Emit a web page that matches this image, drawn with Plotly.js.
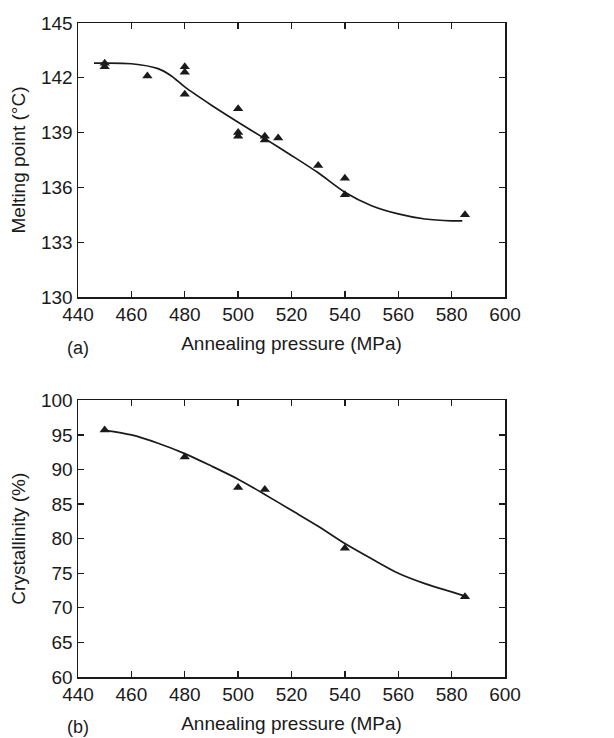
<!DOCTYPE html>
<html>
<head>
<meta charset="utf-8">
<script src="https://cdn.plot.ly/plotly-3.0.1.min.js"></script>
<style>html,body{margin:0;padding:0;background:#fff;}#chart{width:614px;height:738px;}</style>
</head>
<body>
<div id="chart"></div>
<script>
// Panel (a): melting point vs annealing pressure
var mpPressure = [450, 450, 466, 480, 480, 480, 500, 500, 500, 510, 510, 515, 530, 540, 540, 585];
var mpValue    = [142.8, 142.6, 142.1, 142.6, 142.3, 141.1, 140.3, 139.0, 138.8, 138.8, 138.6, 138.7, 137.2, 136.5, 135.6, 134.5];
var mpFitX = [446, 460, 470, 475, 480, 490, 500, 510, 520, 530, 540, 550, 560, 570, 580, 584];
var mpFitY = [142.8, 142.77, 142.5, 142.1, 141.5, 140.5, 139.57, 138.67, 137.75, 136.8, 135.74, 135.0, 134.55, 134.27, 134.17, 134.17];

// Panel (b): crystallinity vs annealing pressure
var crPressure = [450, 480, 500, 510, 540, 585];
var crValue    = [95.7, 91.8, 87.4, 87.1, 78.6, 71.6];
var crFitX = [450, 460, 470, 480, 490, 500, 510, 520, 530, 540, 550, 560, 570, 580, 585];
var crFitY = [95.66, 95.0, 93.8, 92.3, 90.5, 88.6, 86.4, 84.1, 81.8, 79.3, 77.1, 75.0, 73.5, 72.3, 71.7];

var xTitle = 'Annealing pressure (MPa)';
var yTitleA = 'Melting point (°C)';
var yTitleB = 'Crystallinity (%)';

var FONT = 'Liberation Sans, Arial, sans-serif';
var INK = '#1a1a1a';

var traces = [
  {x: mpFitX, y: mpFitY, mode: 'lines', line: {color: INK, width: 1.7, shape: 'spline', smoothing: 0.8}, xaxis: 'x', yaxis: 'y', hoverinfo: 'skip'},
  {x: mpPressure, y: mpValue, mode: 'markers', marker: {symbol: 'triangle-up', size: 9, color: INK}, xaxis: 'x', yaxis: 'y'},
  {x: crFitX, y: crFitY, mode: 'lines', line: {color: INK, width: 1.7, shape: 'spline', smoothing: 0.8}, xaxis: 'x2', yaxis: 'y2', hoverinfo: 'skip'},
  {x: crPressure, y: crValue, mode: 'markers', marker: {symbol: 'triangle-up', size: 9, color: INK}, xaxis: 'x2', yaxis: 'y2'}
];

function xax(anchor) {
  return {
    range: [440, 600], dtick: 20, tick0: 440, anchor: anchor,
    showgrid: false, zeroline: false, showline: true, mirror: 'ticks',
    linecolor: INK, linewidth: 1.5, ticks: 'inside', ticklen: 6, tickwidth: 1.3, tickcolor: INK,
    tickfont: {family: FONT, size: 19, color: INK},
    title: {text: xTitle, font: {family: FONT, size: 19, color: INK}, standoff: 12}
  };
}
function yax(anchor, range, dtick, title, domain) {
  return {
    range: range, dtick: dtick, tick0: range[0], anchor: anchor, domain: domain,
    showgrid: false, zeroline: false, showline: true, mirror: 'ticks',
    linecolor: INK, linewidth: 1.5, ticks: 'inside', ticklen: 6, tickwidth: 1.3, tickcolor: INK,
    tickfont: {family: FONT, size: 19, color: INK},
    title: {text: title, font: {family: FONT, size: 19, color: INK}, standoff: 10}
  };
}

var layout = {
  width: 614, height: 738,
  paper_bgcolor: '#fff', plot_bgcolor: '#fff',
  showlegend: false,
  margin: {l: 78, r: 109, t: 23, b: 61, pad: 0},
  xaxis: xax('y'),
  yaxis: yax('x', [130, 145], 3, yTitleA, [0.581, 1]),
  xaxis2: xax('y2'),
  yaxis2: yax('x2', [60, 100], 5, yTitleB, [0, 0.423]),
  annotations: [
    {text: '(a)', xref: 'paper', yref: 'paper', x: 0, y: 0.581, xanchor: 'center', yanchor: 'middle', yshift: -51, showarrow: false, font: {family: FONT, size: 18, color: INK}},
    {text: '(b)', xref: 'paper', yref: 'paper', x: 0, y: 0, xanchor: 'center', yanchor: 'middle', yshift: -50, showarrow: false, font: {family: FONT, size: 18, color: INK}}
  ]
};

Plotly.newPlot('chart', traces, layout, {displayModeBar: false, staticPlot: true});
</script>
</body>
</html>
